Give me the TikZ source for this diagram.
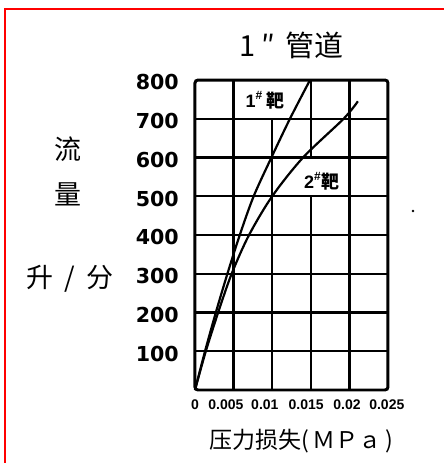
\documentclass[tikz,border=0pt]{standalone}
\usepackage{fontspec}
\setmainfont{Liberation Sans}
\newfontfamily\cjk{Noto Sans CJK SC}
\newfontfamily\numfont{DejaVu Sans}
\usepackage{tikz}
\tikzstyle{frame} = [line width=1.5pt, rounded corners=1.5pt]
\tikzstyle{gridline} = [line width=1.2pt]
\tikzstyle{curve} = [line width=1.1pt, smooth]
\tikzstyle{qlabel} = [anchor=east, inner sep=0pt, font=\numfont\bfseries\fontsize{10.3}{12}\selectfont]
\tikzstyle{plabel} = [inner sep=0pt, font=\bfseries\fontsize{7}{8}\selectfont]
\tikzstyle{hanzi} = [inner sep=0pt, font=\cjk\fontsize{13.5}{16}\selectfont]
\tikzstyle{target} = [inner sep=0pt, font=\bfseries\fontsize{9}{10}\selectfont]

\begin{document}
\begin{tikzpicture}[x=19.3pt, y=19.375pt]
\useasboundingbox (-5.052,-1.884) rectangle (6.451,10.065);
\draw[red, line width=1pt] (-4.92,-1.884) -- (-4.92,9.82) -- (6.451,9.82);

\foreach \y in {1,...,7}
  \draw[gridline] (0,\y) -- (5,\y);
\draw[gridline] (1,0) -- (1,8);
\draw[gridline] (2,0) -- (2,7);
\draw[gridline] (3,0) -- (3,5) (3,6) -- (3,8);
\draw[gridline] (4,0) -- (4,8);
\draw[frame] (0,0) rectangle (5,8);

\draw[curve] plot coordinates {(0,0) (0.26,1) (0.54,2) (0.84,3) (1.16,4) (1.52,5) (1.98,6) (2.46,7) (2.98,8)};
\draw[curve] plot coordinates {(0,0) (0.28,1) (0.6,2) (0.95,3) (1.4,4) (2.0,5) (2.8,6) (3.85,7) (4.22,7.45)};

\foreach \q in {1,...,8}
  \node[qlabel] (q\q) at (-0.41,\q-0.06) {\q00};
\node[plabel] (p0) at (0,-0.39) {0};
\node[plabel] (p1) at (0.80,-0.39) {0.005};
\node[plabel] (p2) at (1.81,-0.39) {0.01};
\node[plabel] (p3) at (2.88,-0.39) {0.015};
\node[plabel] (p4) at (3.94,-0.39) {0.02};
\node[plabel] (p5) at (4.97,-0.39) {0.025};

\node[target] (lab1) at (1.81,7.48) {1\textsuperscript{\#}\,{\cjk 靶}};
\node[target] (lab2) at (3.29,5.39) {2\textsuperscript{\#}{\cjk 靶}};

\node[hanzi, font=\cjk\fontsize{14.5}{16}\selectfont] (title) at (2.5,8.88) {1\hspace{3pt}″\hspace{5pt}管道};
\node[hanzi] (liu) at (-3.29,6.22) {流};
\node[hanzi] (liang) at (-3.29,5.06) {量};
\node[hanzi] (unit) at (-3.24,2.86) {升\hspace{0.4em}/\hspace{0.4em}分};
\node[hanzi, font=\cjk\fontsize{11.5}{14}\selectfont] (xtitle) at (2.75,-1.32) {压力损失(\,ＭＰａ\,)};

\fill (5.65,4.62) circle (0.7pt);
\end{tikzpicture}
\end{document}
